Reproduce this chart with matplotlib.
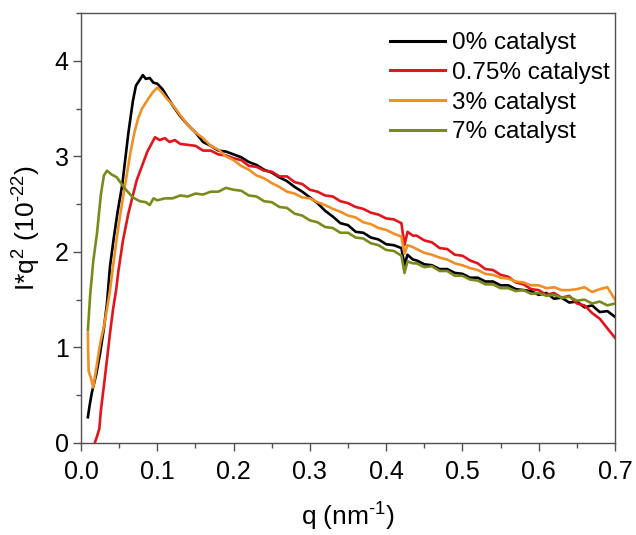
import matplotlib
matplotlib.use("Agg")
import matplotlib.pyplot as plt
from matplotlib.ticker import MultipleLocator

plt.rcParams['font.family'] = ['Liberation Sans', 'DejaVu Sans']
plt.rcParams['mathtext.default'] = 'regular'

labels = ["0% catalyst", "0.75% catalyst", "3% catalyst", "7% catalyst"]
colors = ["#000000", "#e3151c", "#f08f26", "#7c8a1c"]

# ---- 0% catalyst ----
q_0 = [0.009, 0.011, 0.014, 0.02, 0.025, 0.03, 0.034, 0.038, 0.043, 0.048,
       0.054, 0.062, 0.068, 0.072, 0.077, 0.081, 0.085, 0.09, 0.095, 0.1,
       0.107, 0.114, 0.122, 0.13,
       0.14, 0.15, 0.16, 0.17, 0.18, 0.19, 0.2, 0.21, 0.22, 0.23,
       0.24, 0.25, 0.26, 0.27, 0.28, 0.29, 0.3, 0.31, 0.32, 0.33,
       0.34, 0.35, 0.36, 0.37, 0.38, 0.39, 0.4, 0.41, 0.42,
       0.424, 0.428, 0.435,
       0.44, 0.45, 0.46, 0.47, 0.48, 0.49, 0.5, 0.51, 0.52, 0.53,
       0.54, 0.55, 0.56, 0.57, 0.58, 0.59, 0.6, 0.61, 0.62, 0.63,
       0.64, 0.65, 0.66, 0.67, 0.68, 0.69, 0.7]
y_0 = [0.27, 0.38, 0.52, 0.72, 0.94, 1.2, 1.46, 1.85, 2.15, 2.42,
       2.7, 3.24, 3.58, 3.74, 3.8, 3.85, 3.81, 3.82, 3.77, 3.76,
       3.7, 3.61, 3.51, 3.42,
       3.33, 3.25, 3.15, 3.11, 3.06, 3.05, 3.02, 2.99, 2.94, 2.91,
       2.86, 2.83, 2.78, 2.74, 2.68, 2.63, 2.57, 2.51, 2.43, 2.37,
       2.3, 2.28, 2.21, 2.2, 2.15, 2.13, 2.08, 2.07, 2.04,
       1.86, 1.97, 1.92,
       1.91, 1.87, 1.86, 1.82, 1.82, 1.78, 1.77, 1.73, 1.73, 1.69,
       1.69, 1.65, 1.65, 1.61, 1.6, 1.59, 1.55, 1.57, 1.51, 1.52,
       1.47, 1.48, 1.42, 1.44, 1.37, 1.38, 1.32]

# ---- 0.75% catalyst ----
q_075 = [0.018, 0.021, 0.024, 0.026, 0.03, 0.034, 0.038, 0.042, 0.046, 0.049,
         0.055, 0.062, 0.067, 0.073, 0.08, 0.087, 0.093, 0.097, 0.103, 0.11,
         0.116, 0.123, 0.13,
         0.14, 0.15, 0.16, 0.17, 0.18, 0.19, 0.2, 0.21, 0.22, 0.23,
         0.24, 0.25, 0.26, 0.27, 0.28, 0.29, 0.3, 0.31, 0.32, 0.33,
         0.34, 0.35, 0.36, 0.37, 0.38, 0.39, 0.4, 0.41, 0.42,
         0.424, 0.428, 0.435,
         0.44, 0.45, 0.46, 0.47, 0.48, 0.49, 0.5, 0.51, 0.52, 0.53,
         0.54, 0.55, 0.56, 0.57, 0.58, 0.59, 0.6, 0.61, 0.62, 0.63,
         0.64, 0.65, 0.66, 0.67, 0.68, 0.69, 0.7]
y_075 = [0.0, 0.07, 0.15, 0.34, 0.6, 0.87, 1.15, 1.4, 1.6, 1.8,
         2.12, 2.4, 2.56, 2.75, 2.9, 3.05, 3.14, 3.2, 3.17, 3.19,
         3.15, 3.17, 3.13,
         3.12, 3.11, 3.06, 3.06, 3.02, 3.01, 2.98, 2.96, 2.9, 2.89,
         2.85, 2.84, 2.79, 2.79, 2.73, 2.71, 2.65, 2.63, 2.59, 2.58,
         2.53, 2.51, 2.47, 2.45, 2.41, 2.39, 2.35, 2.34, 2.3,
         2.07, 2.21, 2.17,
         2.17, 2.12, 2.1, 2.04, 2.03, 1.97, 1.96, 1.91, 1.88, 1.82,
         1.81, 1.76, 1.74, 1.68, 1.66, 1.61, 1.6, 1.55, 1.57, 1.52,
         1.54, 1.46, 1.44, 1.36, 1.3, 1.2, 1.1]

# ---- 3% catalyst ----
q_3 = [0.009, 0.0095, 0.010, 0.013, 0.016, 0.02, 0.025, 0.03, 0.034, 0.038,
       0.042, 0.047, 0.052, 0.058, 0.065, 0.07, 0.075, 0.08, 0.088, 0.094,
       0.1, 0.106, 0.113, 0.12, 0.13,
       0.14, 0.15, 0.16, 0.17, 0.18, 0.19, 0.2, 0.21, 0.22, 0.23,
       0.24, 0.25, 0.26, 0.27, 0.28, 0.29, 0.3, 0.31, 0.32, 0.33,
       0.34, 0.35, 0.36, 0.37, 0.38, 0.39, 0.4, 0.41, 0.42,
       0.424, 0.428, 0.435,
       0.44, 0.45, 0.46, 0.47, 0.48, 0.49, 0.5, 0.51, 0.52, 0.53,
       0.54, 0.55, 0.56, 0.57, 0.58, 0.59, 0.6, 0.61, 0.62, 0.63,
       0.64, 0.65, 0.66, 0.67, 0.68, 0.69, 0.7]
y_3 = [1.15, 0.9, 0.75, 0.68, 0.58, 0.78, 1.04, 1.22, 1.4, 1.6,
       1.85, 2.15, 2.42, 2.71, 3.05, 3.25, 3.4, 3.5, 3.6, 3.67,
       3.72, 3.67, 3.6, 3.54, 3.43,
       3.33, 3.25, 3.19, 3.11, 3.07, 3.0, 2.96, 2.9, 2.86, 2.8,
       2.77, 2.72, 2.68, 2.63, 2.61, 2.57, 2.56, 2.52, 2.49, 2.45,
       2.42, 2.38, 2.36, 2.31, 2.29, 2.25, 2.23, 2.19, 2.16,
       1.98, 2.07, 2.05,
       2.03, 1.99, 1.97, 1.94, 1.92, 1.88, 1.86, 1.83, 1.81, 1.77,
       1.76, 1.73, 1.72, 1.69, 1.68, 1.65, 1.65, 1.62, 1.63, 1.6,
       1.6, 1.61, 1.63, 1.58, 1.61, 1.63, 1.5]

# ---- 7% catalyst ----
q_7 = [0.009, 0.012, 0.016, 0.021, 0.026, 0.03, 0.034, 0.04, 0.047, 0.054,
       0.06, 0.068, 0.077, 0.085, 0.09, 0.095, 0.1, 0.11, 0.12, 0.13,
       0.14, 0.15, 0.16, 0.17, 0.18, 0.19, 0.2, 0.21, 0.22, 0.23,
       0.24, 0.25, 0.26, 0.27, 0.28, 0.29, 0.3, 0.31, 0.32, 0.33,
       0.34, 0.35, 0.36, 0.37, 0.38, 0.39, 0.4, 0.41, 0.42,
       0.424, 0.428, 0.435,
       0.44, 0.45, 0.46, 0.47, 0.48, 0.49, 0.5, 0.51, 0.52, 0.53,
       0.54, 0.55, 0.56, 0.57, 0.58, 0.59, 0.6, 0.61, 0.62, 0.63,
       0.64, 0.65, 0.66, 0.67, 0.68, 0.69, 0.7]
y_7 = [1.18, 1.55, 1.9, 2.2, 2.6, 2.8, 2.85, 2.81, 2.78, 2.7,
       2.64, 2.57, 2.53, 2.52, 2.49, 2.56, 2.54, 2.56, 2.56, 2.59,
       2.58, 2.61, 2.6, 2.63, 2.63, 2.67, 2.65, 2.64, 2.59, 2.58,
       2.53, 2.52, 2.47, 2.46, 2.4, 2.38, 2.33, 2.31, 2.26, 2.25,
       2.2, 2.2, 2.15, 2.14, 2.09, 2.07, 2.02, 2.01, 1.96,
       1.78, 1.9, 1.88,
       1.88, 1.84, 1.85, 1.8, 1.8, 1.75, 1.75, 1.71, 1.7, 1.66,
       1.66, 1.62, 1.62, 1.59, 1.6, 1.56, 1.57, 1.54, 1.55, 1.52,
       1.53, 1.49, 1.5, 1.46, 1.48, 1.44, 1.46]

series = [(q_0, y_0), (q_075, y_075), (q_3, y_3), (q_7, y_7)]
for qq, yy in series:
    assert len(qq) == len(yy), (len(qq), len(yy))

fig = plt.figure(figsize=(6.36, 5.35), dpi=100)
ax = fig.add_axes([0.1274, 0.172, 0.8396, 0.8037])

for (qq, yy), c, lab in zip(series, colors, labels):
    ax.plot(qq, yy, color=c, lw=1.9, label=lab)

ax.set_xlim(0, 0.7)
ax.set_ylim(0, 4.5)
ax.xaxis.set_major_locator(MultipleLocator(0.1))
ax.xaxis.set_minor_locator(MultipleLocator(0.05))
ax.yaxis.set_major_locator(MultipleLocator(1))
ax.yaxis.set_minor_locator(MultipleLocator(0.5))
ax.set_xticks([0.0, 0.1, 0.2, 0.3, 0.4, 0.5, 0.6, 0.7])
ax.set_xticklabels(["0.0", "0.1", "0.2", "0.3", "0.4", "0.5", "0.6", "0.7"])

spine_c = "#505050"
for s in ax.spines.values():
    s.set_color(spine_c)
    s.set_linewidth(1.0)
ax.tick_params(axis='x', which='major', direction='out', length=6, width=1.0,
               color=spine_c, labelsize=18, pad=6)
ax.tick_params(axis='y', which='major', direction='out', length=6, width=1.0,
               color=spine_c, labelsize=18, pad=3)
ax.tick_params(which='minor', direction='out', length=3.5, width=1.0, color=spine_c)

ax.set_xlabel("q (nm$^{\u2010 1}$)", fontsize=19, labelpad=12)
ax.set_ylabel("I*q$^2$ (10$^{\u2010 22}$)", fontsize=19, labelpad=8)

leg = ax.legend(loc='upper right', frameon=False, fontsize=17.5, handlelength=2.26,
                handletextpad=0.29, labelspacing=0.32, borderaxespad=0.0,
                borderpad=0.2, bbox_to_anchor=(1.0, 0.967))
for h in leg.get_lines():
    h.set_linewidth(2.2)

fig.savefig("out.png", dpi=100)
